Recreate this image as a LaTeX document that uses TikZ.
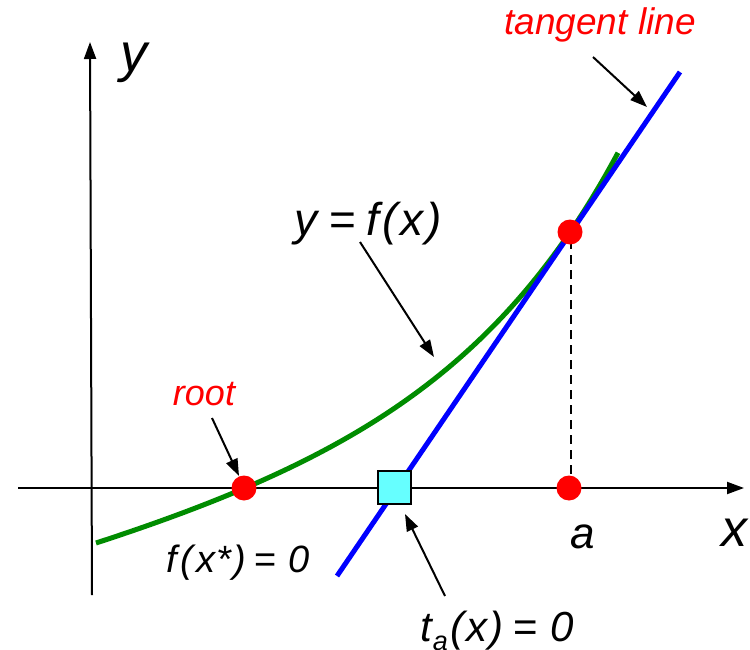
\documentclass[tikz,border=0pt]{standalone}
\usepackage{fontspec}
\setmainfont{Liberation Sans}
\usetikzlibrary{arrows.meta}
\definecolor{curvegreen}{RGB}{0,140,0}
\definecolor{sqcyan}{RGB}{102,255,255}
\begin{document}
\begin{tikzpicture}[x=1pt,y=-1pt,
  axisline/.style={line width=2pt,-{Triangle[length=17pt,width=12pt]}},
  pointer/.style={line width=2pt,-{Triangle[length=17pt,width=12pt]}},
  dot/.style={circle,fill=red,inner sep=0pt,minimum size=25pt},
  lbl/.style={inner sep=0pt,anchor=base,font=\fontsize{38}{42}\selectfont\itshape},
  redlbl/.style={lbl,text=red,font=\fontsize{37}{42}\selectfont\itshape}]
\useasboundingbox (0,0) rectangle (750,650);
% axes
\coordinate (xs) at (18,488);
\coordinate (xe) at (744,488);
\coordinate (ys) at (92,595);
\coordinate (ye) at (90,42);
\draw[axisline] (xs) -- (xe);
\draw[axisline] (ys) -- (ye);
% dashed
\coordinate (dtop) at (571,240);
\coordinate (dbot) at (571,478);
\draw[line width=1.6pt,dash pattern=on 9pt off 6pt] (dtop) -- (dbot);
% green curve
\draw[curvegreen,line width=5pt] plot[domain=96:618,samples=80,smooth]
  (\x,{488-28.7*(exp(0.006*(\x-245))-1)-0.2553*(\x-245)});
% blue tangent
\coordinate (bs) at (337,576);
\coordinate (be) at (680,72);
\draw[blue,line width=5pt] (bs) -- (be);
% square and dots
\node[draw=black,line width=2pt,fill=sqcyan,minimum width=33pt,minimum height=33pt,inner sep=0pt] (sq) at (394,487) {};
\node[dot] (root) at (244,488) {};
\node[dot] (pa) at (570,232) {};
\node[dot] (ax) at (569,488) {};
% labels
\node[lbl,font=\fontsize{54}{58}\selectfont\itshape] (ylab) at (134,72) {y};
\node[lbl,font=\fontsize{52}{56}\selectfont\itshape] (xlab) at (734,546) {x};
\node[redlbl] (tl) at (600,35) {tangent line};
\node[lbl,font=\fontsize{46}{50}\selectfont\itshape] (yf) at (368,235) {y\kern12pt\textup{=}\kern10pt f\kern4pt(\kern2pt x\kern3pt)};
\node[redlbl,font=\fontsize{36}{40}\selectfont\itshape] (rt) at (204,405) {root};
\node[lbl] (fx) at (238,572) {f\kern4pt(\kern3pt x\kern1pt*\kern3pt)\kern8pt\textup{=}\kern12pt 0};
\node[lbl,font=\fontsize{44}{48}\selectfont\itshape] (alab) at (583,548) {a};
\node[lbl,font=\fontsize{42}{46}\selectfont\itshape] (ta) at (497,641) {t\kern1pt\raisebox{-9pt}{\fontsize{27}{30}\selectfont a}\kern3pt(\kern2pt x\kern2pt)\kern10pt\textup{=}\kern12pt 0};
% pointers
\coordinate (tls) at (593,57);
\coordinate (tlt) at (647,107);
\coordinate (yfs) at (360,242);
\coordinate (yft) at (434,357);
\coordinate (rts) at (212,418);
\coordinate (rtt) at (239,476);
\coordinate (tas) at (445,596);
\coordinate (tat) at (405,514);
\draw[pointer] (tls) -- (tlt);
\draw[pointer] (yfs) -- (yft);
\draw[pointer] (rts) -- (rtt);
\draw[pointer] (tas) -- (tat);
\end{tikzpicture}
\end{document}
